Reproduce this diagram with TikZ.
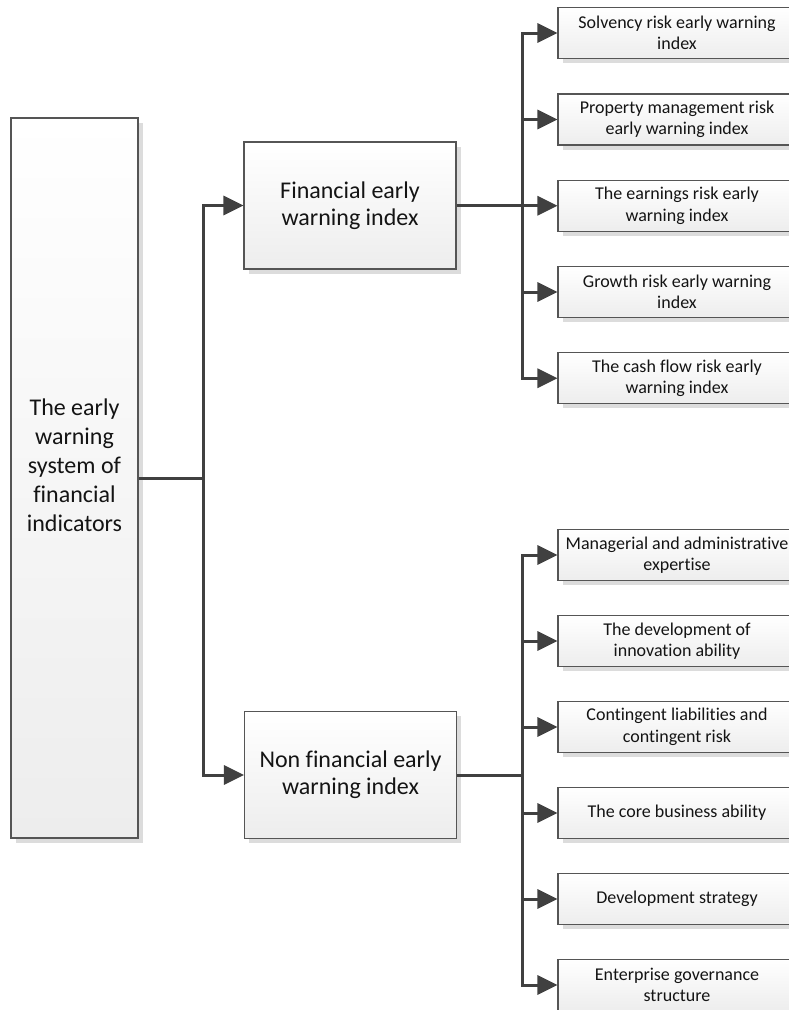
\documentclass[tikz,border=0pt]{standalone}
\usepackage{fontspec}
\setmainfont{Carlito}[Ligatures=NoCommon]
\usetikzlibrary{arrows.meta,shadows}
\definecolor{linec}{HTML}{404040}
\definecolor{boxline}{HTML}{555555}
\definecolor{boxbot}{HTML}{EDEDED}
\definecolor{shadowc}{HTML}{DCDCDC}
\definecolor{txt}{HTML}{141414}
\tikzset{
 box/.style={draw=boxline, line width=1.1pt, top color=white, bottom color=boxbot, align=center, text=txt, inner sep=0pt,
   general shadow={fill=shadowc, shadow xshift=4.5pt, shadow yshift=-4.5pt}},
 rootbox/.style={box, minimum width=127pt, minimum height=720pt},
 roottext/.style={align=center, text=txt, inner sep=0pt, font=\fontsize{24}{29}\selectfont},
 midbox/.style={box, minimum width=212pt, minimum height=127pt, font=\fontsize{24}{27}\selectfont},
 leafbox/.style={box, minimum width=238pt, minimum height=51pt, font=\fontsize{18}{21.5}\selectfont},
 conn/.style={draw=linec, line width=3pt},
 arr/.style={conn, -{Triangle[length=20pt,width=19pt]}},
}
\begin{document}
\begin{tikzpicture}[x=1pt,y=1pt]
\useasboundingbox (0,0) rectangle (789,-1010);
\clip (0,0) rectangle (789,-1010);
\node[rootbox] (root) at (74.5,-478) {};
\node[roottext] (rootlabel) at (74.5,-465) {The early\\warning\\system of\\financial\\indicators};
\node[midbox] (fin) at (350,-205.5) {Financial early\\warning index};
\node[midbox] (nonfin) at (350.5,-775) {Non financial early\\warning index};
\node[leafbox] (f1) at (677,-33) {Solvency risk early warning\\index};
\node[leafbox] (f2) at (677,-119.5) {Property management risk\\early warning index};
\node[leafbox] (f3) at (677,-205.75) {The earnings risk early\\warning index};
\node[leafbox] (f4) at (677,-292) {Growth risk early warning\\index};
\node[leafbox] (f5) at (677,-378.25) {The cash flow risk early\\warning index};
\node[leafbox] (n1) at (677,-555) {Managerial and administrative\\expertise};
\node[leafbox] (n2) at (677,-641) {The development of\\innovation ability};
\node[leafbox] (n3) at (677,-727) {Contingent liabilities and\\contingent risk};
\node[leafbox] (n4) at (677,-813) {The core business ability};
\node[leafbox] (n5) at (677,-899) {Development strategy};
\node[leafbox] (n6) at (677,-985) {Enterprise governance\\structure};
\coordinate (j1) at (203,-478);
\coordinate (j2) at (522,-205.5);
\coordinate (j3) at (522,-775);
\draw[arr] (root.east) -- (j1) |- (fin.west);
\draw[arr] (j1) |- (nonfin.west);
\draw[conn] (fin.east) -- (j2);
\draw[conn] (nonfin.east) -- (j3);
\foreach \i in {1,...,5} {\draw[arr] (j2) |- (f\i.west);}
\foreach \i in {1,...,6} {\draw[arr] (j3) |- (n\i.west);}
\end{tikzpicture}
\end{document}
